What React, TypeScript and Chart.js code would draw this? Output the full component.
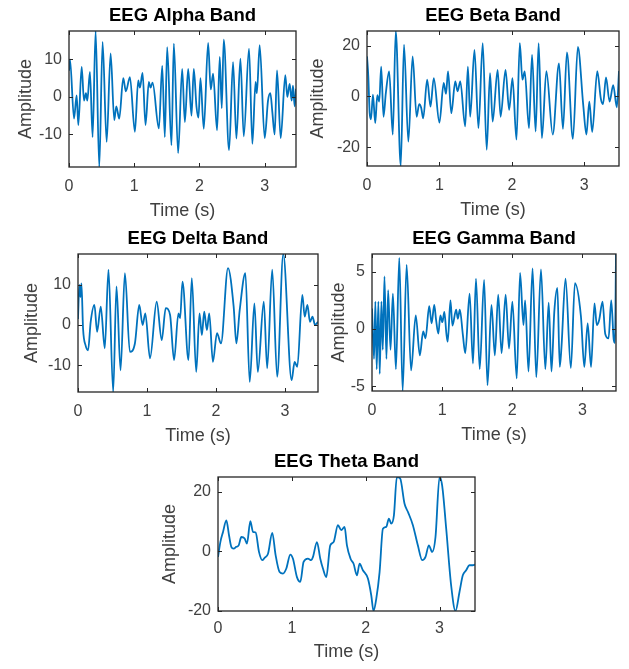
import React, { useEffect, useRef } from 'react';
import { Chart, registerables } from 'chart.js';

Chart.register(...registerables);

const FONT = '"Liberation Sans", Arial, Helvetica, sans-serif';
const LINE_COLOR = '#0072BD';
const TICK_COLOR = '#404040';
const LABEL_COLOR = '#404040';

const timeTicks = [0, 1, 2, 3];
const timeMax = 3.48;

// ---- Alpha band ----
const alphaTime = [0, 0.015, 0.077, 0.117, 0.143, 0.194, 0.23, 0.26, 0.281, 0.321, 0.362, 0.408, 0.464, 0.515, 0.577, 0.638, 0.694, 0.725, 0.77, 0.832, 0.872, 0.934, 1.01, 1.061, 1.087, 1.128, 1.173, 1.224, 1.25, 1.281, 1.378, 1.429, 1.469, 1.505, 1.571, 1.607, 1.673, 1.735, 1.776, 1.827, 1.878, 1.913, 1.954, 1.985, 2.015, 2.066, 2.133, 2.173, 2.209, 2.27, 2.311, 2.342, 2.372, 2.454, 2.515, 2.566, 2.628, 2.679, 2.76, 2.811, 2.86, 2.88, 2.923, 3.0, 3.051, 3.087, 3.117, 3.153, 3.189, 3.245, 3.316, 3.347, 3.383, 3.413, 3.434, 3.459, 3.48];
const alphaAmp = [7, 10, -5.8, 0.4, -7.5, 8, -1, 1, -1, 6.7, -10.7, 17.6, -18.7, 14.7, -12, 11.6, -6.2, -2.5, -5.8, 5, 1.5, 5.3, -9.3, 4.4, 2.5, 6.4, -7.5, 4, 2.5, 3.8, -8.4, 8.3, -10.7, 13.3, -12.9, 14.2, -15, 7.5, -6.7, 7.5, -5, 7.5, -2.5, -5.5, 5, -8.5, 14.4, 2, 6.2, -8.9, 10.7, -3, 15.3, -14.2, 9.3, -11.1, 10.2, -10.5, 12.9, -12.5, 4, 1, 13.8, -11, -1, 1, -4, -10, 7.1, -11, 5.8, 0, 3.5, -1, 3, -2.5, 2.2];
const alphaTicks = [-10, 0, 10];

// ---- Beta band ----
const betaTime = [0, 0.018, 0.037, 0.055, 0.082, 0.114, 0.142, 0.169, 0.196, 0.228, 0.26, 0.306, 0.356, 0.397, 0.466, 0.511, 0.571, 0.63, 0.685, 0.721, 0.749, 0.776, 0.831, 0.877, 0.922, 1.0, 1.059, 1.091, 1.119, 1.164, 1.219, 1.251, 1.288, 1.356, 1.393, 1.425, 1.484, 1.539, 1.598, 1.653, 1.699, 1.735, 1.804, 1.845, 1.913, 1.963, 2.009, 2.064, 2.11, 2.146, 2.178, 2.237, 2.279, 2.329, 2.37, 2.415, 2.477, 2.565, 2.651, 2.706, 2.761, 2.843, 2.912, 2.985, 3.03, 3.07, 3.11, 3.18, 3.23, 3.26, 3.3, 3.35, 3.4, 3.45, 3.48];
const betaAmp = [15.8, 8, -6.6, -9, 0.7, -10.5, 0.5, -2, 11.8, -8, 1.3, 9.9, -15, 25.8, -27.4, 20.4, -17.8, 15.8, -8, -3, -4.5, -8.6, 6.6, -4, 7.2, -10.3, 5.3, 1, 9.9, -6.6, 5.9, 2, 5.9, -11.8, 11.8, -8, 18.4, -12.5, 21, -21, 9.2, -9.9, 10.5, -8, 10.5, -5.3, 7.2, -17, 21, 6.6, 9.9, -12.5, 16.4, -13.8, 21, -16.4, 10, -15, 13, -12.8, 17.4, -16.7, 19.5, -3, -15, -2, -14, 10, -1, -3, 7.5, -2, 4.5, -4.3, 10];
const betaTicks = [-20, 0, 20];

// ---- Delta band ----
const deltaTime = [0, 0.02, 0.035, 0.05, 0.073, 0.112, 0.146, 0.184, 0.238, 0.277, 0.33, 0.388, 0.442, 0.51, 0.558, 0.617, 0.68, 0.752, 0.825, 0.888, 0.937, 0.976, 1.044, 1.141, 1.214, 1.272, 1.335, 1.393, 1.456, 1.481, 1.515, 1.602, 1.65, 1.714, 1.762, 1.796, 1.83, 1.869, 1.903, 1.956, 2.015, 2.073, 2.175, 2.257, 2.296, 2.345, 2.427, 2.49, 2.558, 2.607, 2.694, 2.743, 2.816, 2.888, 2.976, 3.097, 3.141, 3.18, 3.253, 3.287, 3.326, 3.364, 3.4, 3.437, 3.48];
const deltaAmp = [1.5, 10, 7, 10.4, -0.8, -5.2, -6.3, 0.8, 5, -1.7, 4.6, -5.8, 13.8, -16.7, 9.6, -11.3, 12.9, -6.7, -4.6, 5, 0, 2.9, -8.3, 5.8, -3.75, 4.2, 2.5, -8.75, 2.9, 1.7, 10.8, -8.75, 11.7, -11.7, 2.9, -2.5, 3.3, -1.25, 2.9, -9.2, -2, -4.6, 14.2, 4.6, -4.6, 3.75, 12.9, -14.2, 5.4, -11.7, 5.8, -10.8, 13.8, -12.9, 17.7, -13.75, -9.2, -10.4, 7.5, 2.1, 5, 0.8, 2.1, 0, 0.8];
const deltaTicks = [-10, 0, 10];

// ---- Gamma band ----
const gammaTime = [0, 0.029, 0.048, 0.067, 0.091, 0.11, 0.134, 0.154, 0.178, 0.206, 0.23, 0.264, 0.298, 0.341, 0.389, 0.437, 0.494, 0.557, 0.624, 0.682, 0.73, 0.763, 0.816, 0.85, 0.888, 0.912, 0.946, 0.975, 1.003, 1.032, 1.061, 1.08, 1.119, 1.147, 1.2, 1.224, 1.253, 1.296, 1.33, 1.392, 1.44, 1.483, 1.536, 1.599, 1.647, 1.704, 1.752, 1.8, 1.848, 1.906, 1.954, 2.002, 2.064, 2.112, 2.16, 2.184, 2.232, 2.29, 2.343, 2.41, 2.472, 2.52, 2.56, 2.6, 2.644, 2.678, 2.702, 2.76, 2.836, 2.894, 2.98, 3.028, 3.076, 3.124, 3.173, 3.206, 3.24, 3.288, 3.326, 3.374, 3.412, 3.447, 3.465, 3.48];
const gammaAmp = [1.8, -2.6, 2.4, -3.5, 2.4, -3.9, 2.4, -1.8, 4.6, -2.6, 3.4, -1.8, 3.1, -3.5, 6.2, -5.4, 5.6, -3.6, 1.2, -2.3, -0.2, -0.8, 2, 0.5, 2.1, 0.9, -0.4, 1.2, 0.6, 1.5, -0.4, -1.1, 2.5, 0.3, 1.7, 0.9, 1.7, -0.5, -2.1, 3.1, -3, 4.4, -3.5, 4.3, -4.9, 2.1, -2.3, 3, -2.1, 3, -1.7, 2.4, -4.3, 4.9, 0.35, 2.5, -3.7, 5.3, -4.2, 5.2, -3.5, 2.3, -3.7, 1.5, 3.6, -3.3, -1.6, 4.4, -3.4, 4.0, 1.1, -3.3, 0.5, -3.3, 2.25, 0.35, 0.8, 2.4, -0.4, -0.8, 2.5, -0.9, -1.2, 6.55];
const gammaTicks = [-5, 0, 5];

// ---- Theta band ----
const thetaTime = [0, 0.032, 0.068, 0.113, 0.149, 0.18, 0.212, 0.248, 0.28, 0.316, 0.361, 0.392, 0.438, 0.474, 0.51, 0.555, 0.6, 0.631, 0.677, 0.735, 0.78, 0.834, 0.88, 0.925, 0.979, 1.015, 1.069, 1.114, 1.159, 1.218, 1.263, 1.286, 1.34, 1.385, 1.421, 1.466, 1.52, 1.565, 1.624, 1.669, 1.714, 1.746, 1.795, 1.836, 1.881, 1.917, 1.962, 2.03, 2.075, 2.106, 2.143, 2.188, 2.233, 2.278, 2.314, 2.346, 2.382, 2.422, 2.467, 2.526, 2.571, 2.639, 2.706, 2.765, 2.81, 2.855, 2.9, 2.945, 3.0, 3.036, 3.09, 3.157, 3.216, 3.27, 3.315, 3.36, 3.405, 3.451, 3.48];
const thetaAmp = [-1.9, 3.1, 6.5, 10.4, 5.4, 1.5, 0.9, 1.5, 2, 4.8, 4.3, 2.6, 10.1, 6.5, 6.3, -0.2, -3, -2.2, -0.8, 6.2, -1.3, -7, -7.5, -5.8, -1.1, -2.5, -8.7, -10.3, -3.6, -2.5, -3, -1.9, 3.1, -2.5, -5.8, -8.7, 2, 3.1, 8.8, 7.1, 8.2, 2, -2.5, -4.2, -8.1, -4.2, -6.4, -9.2, -14.8, -20.1, -16, -7, 7.6, 8.2, 11, 9.3, 12.1, 25, 24.5, 16, 13.3, 8.8, 2, -3, -1.9, 2, -0.2, 4.8, 25, 22, 7.6, -11.5, -20.1, -13.7, -8.1, -6.4, -4.7, -4.7, -4.5];
const thetaTicks = [-20, 0, 20];

type PanelSpec = {
  title: string;
  time: number[];
  amp: number[];
  yMin: number;
  yMax: number;
  yTicks: number[];
  rect: [number, number, number, number];
  yLabelGap: number;
  xTickGap: number;
  xLabelGap: number;
};

const panels: PanelSpec[] = [
  { title: 'EEG Alpha Band', time: alphaTime, amp: alphaAmp, yMin: -18.7, yMax: 17.6, yTicks: alphaTicks, rect: [69, 31, 296, 167], yLabelGap: 43, xTickGap: 20, xLabelGap: 44 },
  { title: 'EEG Beta Band', time: betaTime, amp: betaAmp, yMin: -27.4, yMax: 25.8, yTicks: betaTicks, rect: [367, 31, 619, 166], yLabelGap: 49, xTickGap: 20, xLabelGap: 44 },
  { title: 'EEG Delta Band', time: deltaTime, amp: deltaAmp, yMin: -16.7, yMax: 17.7, yTicks: deltaTicks, rect: [78, 254, 318, 392], yLabelGap: 46, xTickGap: 20, xLabelGap: 44 },
  { title: 'EEG Gamma Band', time: gammaTime, amp: gammaAmp, yMin: -5.4, yMax: 6.55, yTicks: gammaTicks, rect: [372, 254, 616, 391], yLabelGap: 33, xTickGap: 20, xLabelGap: 44 },
  { title: 'EEG Theta Band', time: thetaTime, amp: thetaAmp, yMin: -20.1, yMax: 25, yTicks: thetaTicks, rect: [218, 477, 475, 611], yLabelGap: 48, xTickGap: 18, xLabelGap: 41 },
];

const Y_W = 64;
const TOP_H = 32;
const X_H = 56;
const RIGHT_PAD = 8;
const TICK_SIZE = 16;
const LABEL_SIZE = 18;
const TITLE_SIZE = 18.5;

const boxPlugin = {
  id: 'matlabBox',
  afterDatasetsDraw(chart: any) {
    const { ctx, chartArea: a, scales } = chart;
    ctx.save();
    ctx.strokeStyle = '#262626';
    ctx.lineWidth = 1.3;
    ctx.strokeRect(a.left, a.top, a.right - a.left, a.bottom - a.top);
    ctx.lineWidth = 1;
    const tl = 4;
    ctx.beginPath();
    scales.x.ticks.forEach((tk: any) => {
      const p = Math.round(scales.x.getPixelForValue(tk.value)) + 0.5;
      ctx.moveTo(p, a.bottom);
      ctx.lineTo(p, a.bottom - tl);
      ctx.moveTo(p, a.top);
      ctx.lineTo(p, a.top + tl);
    });
    scales.y.ticks.forEach((tk: any) => {
      const p = Math.round(scales.y.getPixelForValue(tk.value)) + 0.5;
      ctx.moveTo(a.left, p);
      ctx.lineTo(a.left + tl, p);
      ctx.moveTo(a.right, p);
      ctx.lineTo(a.right - tl, p);
    });
    ctx.stroke();
    ctx.restore();
  },
};

function Panel({ p }: { p: PanelSpec }) {
  const ref = useRef<HTMLCanvasElement | null>(null);
  const [L, T, R, B] = p.rect;
  const w = R - L + Y_W + RIGHT_PAD;
  const h = B - T + TOP_H + X_H;

  useEffect(() => {
    if (!ref.current) return;
    const chart = new Chart(ref.current, {
      type: 'line',
      data: {
        datasets: [
          {
            data: p.time.map((x, i) => ({ x, y: p.amp[i] })),
            borderColor: LINE_COLOR,
            borderWidth: 1.8,
            pointRadius: 0,
            cubicInterpolationMode: 'monotone',
            fill: false,
          } as any,
        ],
      },
      options: {
        responsive: false,
        animation: false,
        devicePixelRatio: 1,
        layout: { padding: { left: 0, top: 0, right: RIGHT_PAD, bottom: 0 } },
        plugins: {
          legend: { display: false },
          tooltip: { enabled: false },
          title: {
            display: true,
            fullSize: false,
            text: p.title,
            color: '#000000',
            font: { family: FONT, size: TITLE_SIZE, weight: 'bold', lineHeight: 1 },
            padding: { top: TOP_H - 15 - TITLE_SIZE / 2, bottom: 15 - TITLE_SIZE / 2 },
          },
        },
        scales: {
          x: {
            type: 'linear',
            min: 0,
            max: timeMax,
            afterBuildTicks: (s: any) => {
              s.ticks = timeTicks.map((value) => ({ value }));
            },
            afterFit: (s: any) => {
              s.height = X_H;
            },
            grid: { display: false, drawTicks: false },
            border: { display: false },
            ticks: {
              color: TICK_COLOR,
              font: { family: FONT, size: TICK_SIZE, lineHeight: 1 },
              padding: p.xTickGap - TICK_SIZE / 2,
              maxRotation: 0,
              autoSkip: false,
            },
            title: {
              display: true,
              text: 'Time (s)',
              color: LABEL_COLOR,
              font: { family: FONT, size: LABEL_SIZE, lineHeight: 1 },
              padding: { top: 0, bottom: X_H - p.xLabelGap - LABEL_SIZE / 2 },
            },
          },
          y: {
            type: 'linear',
            min: p.yMin,
            max: p.yMax,
            afterBuildTicks: (s: any) => {
              s.ticks = p.yTicks.map((value) => ({ value }));
            },
            afterFit: (s: any) => {
              s.width = Y_W;
            },
            grid: { display: false, drawTicks: false },
            border: { display: false },
            ticks: {
              color: TICK_COLOR,
              font: { family: FONT, size: TICK_SIZE, lineHeight: 1 },
              padding: 7,
              autoSkip: false,
            },
            title: {
              display: true,
              text: 'Amplitude',
              color: LABEL_COLOR,
              font: { family: FONT, size: LABEL_SIZE, lineHeight: 1 },
              padding: { top: Y_W - p.yLabelGap - LABEL_SIZE / 2, bottom: 0 },
            },
          },
        },
      } as any,
      plugins: [boxPlugin],
    });
    return () => chart.destroy();
  }, []);

  return (
    <canvas
      ref={ref}
      width={w}
      height={h}
      style={{ position: 'absolute', left: L - Y_W, top: T - TOP_H, width: w, height: h }}
    />
  );
}

export default function App() {
  return (
    <div style={{ position: 'absolute', left: 0, top: 0, width: 629, height: 669, background: '#ffffff', overflow: 'hidden' }}>
      {panels.map((p) => (
        <Panel key={p.title} p={p} />
      ))}
    </div>
  );
}
